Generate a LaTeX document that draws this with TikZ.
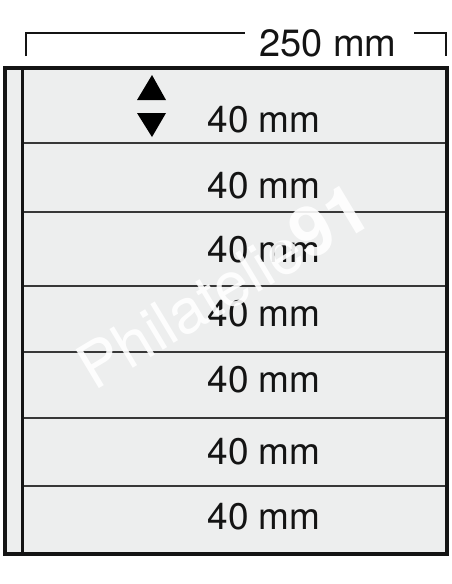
\documentclass[tikz,border=0pt]{standalone}
\usepackage{fontspec}
\setmainfont{TeX Gyre Heros}
\definecolor{sheet}{HTML}{EDEEEE}
\definecolor{ink}{HTML}{141414}

\tikzset{
    % Frame styles - heavy outline of the sheet
    frame/.style={line width=3.5pt, ink},
    strip/.style={line width=3pt, ink},
    % Row divider
    divider/.style={line width=1.4pt, ink!85},
    % Dimension bracket
    dimline/.style={line width=1.3pt, ink},
    % Label styles
    row label/.style={font=\fontsize{37}{40}\selectfont, ink, inner sep=0pt},
    dim label/.style={font=\fontsize{38}{40}\selectfont, ink, inner sep=0pt},
    % Height marker triangles
    marker/.style={fill=black, draw=none},
    % Watermark
    stamp/.style={white, opacity=0.9, rotate=31, inner sep=0pt, anchor=base west},
}

\begin{document}
\begin{tikzpicture}[x=1pt, y=-1pt]
    \useasboundingbox (0,0) rectangle (452,584);

    % Sheet
    \fill[sheet] (5,68) rectangle (447,554);

    % Dimension bracket
    \node[dim label] (width) at (328,43) {250 mm};
    \coordinate (dimL) at (26,56);
    \coordinate (dimR) at (446,56);
    \draw[dimline] (dimL) -- (26,33) -- (245,33);
    \draw[dimline] (414,33) -- (446,33) -- (dimR);

    % Rows
    \draw[divider] (23,143) -- (449,143);
    \draw[divider] (23,212) -- (449,212);
    \draw[divider] (23,286) -- (449,286);
    \draw[divider] (23,352) -- (449,352);
    \draw[divider] (23,418) -- (449,418);
    \draw[divider] (23,486) -- (449,486);

    \node[row label] (row1) at (264,120) {40 mm};
    \node[row label] (row2) at (264,186) {40 mm};
    \node[row label] (row3) at (264,250) {40 mm};
    \node[row label] (row4) at (264,314) {40 mm};
    \node[row label] (row5) at (264,380) {40 mm};
    \node[row label] (row6) at (264,452) {40 mm};
    \node[row label] (row7) at (264,517) {40 mm};

    % Height marker
    \fill[marker] (152,75) -- (166,100) -- (137,100) -- cycle;
    \fill[marker] (137,113) -- (166,113) -- (152,137) -- cycle;

    % Frame
    \draw[strip] (22.5,68) -- (22.5,554);
    \draw[frame] (5,68) rectangle (447,554);

    % Watermark
    \node[stamp] (mark) at (94,392)
        {\fontsize{62}{64}\selectfont Philatelie{\fontsize{70}{72}\selectfont\bfseries 91}};
\end{tikzpicture}
\end{document}
